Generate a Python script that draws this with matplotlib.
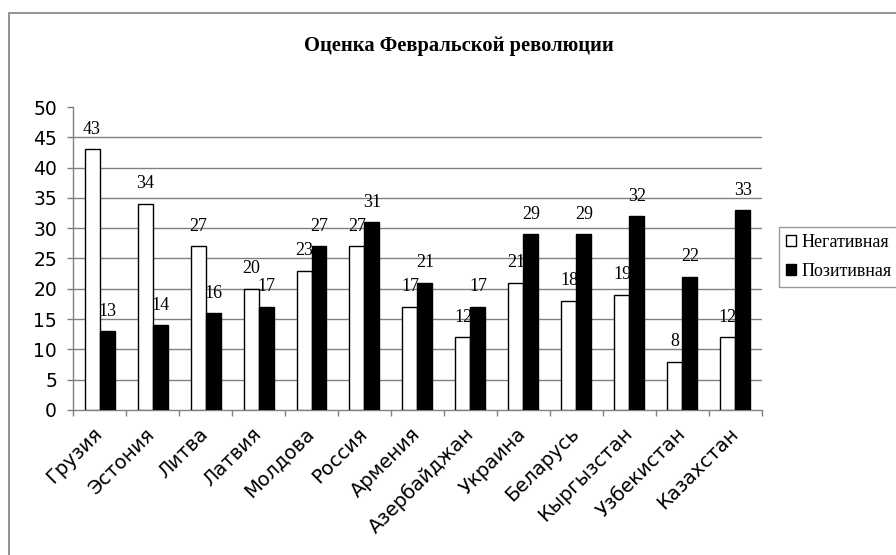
import numpy as np
import matplotlib.pyplot as plt
from matplotlib.patches import Rectangle

# данные
countries = ['Грузия', 'Эстония', 'Литва', 'Латвия', 'Молдова', 'Россия', 'Армения',
             'Азербайджан', 'Украина', 'Беларусь', 'Кыргызстан', 'Узбекистан', 'Казахстан']
negative = [43, 34, 27, 20, 23, 27, 17, 12, 21, 18, 19, 8, 12]
positive = [13, 14, 16, 17, 27, 31, 21, 17, 29, 29, 32, 22, 33]
yticks = list(range(0, 51, 5))

fig = plt.figure(figsize=(8.96, 5.55), dpi=100)
ax = fig.add_axes([0.0815, 0.2613, 0.7689, 0.5459])

# рамка диаграммы
fig.patches.append(Rectangle((9 / 896, -0.1), 1.2, 1.1 - 13 / 555,
                             transform=fig.transFigure, fill=False,
                             edgecolor='#808080', lw=1.2))

x = np.arange(len(countries))
w = 0.283
b1 = ax.bar(x - w / 2, negative, w, color='white', edgecolor='black', lw=1,
            label='Негативная', zorder=3)
b2 = ax.bar(x + w / 2, positive, w, color='black', edgecolor='black', lw=1,
            label='Позитивная', zorder=3)

for rect, v in list(zip(b1, negative)) + list(zip(b2, positive)):
    ax.text(rect.get_x() + rect.get_width() / 2, v + 3.3, str(v),
            ha='center', va='center', family='Liberation Serif', fontsize=13,
            zorder=4)

ax.set_ylim(0, 50)
ax.set_xlim(-0.5, len(countries) - 0.5)
ax.set_yticks(yticks)
ax.set_yticklabels([str(t) for t in yticks], fontsize=13.5, family='DejaVu Sans')
for t in yticks[1:-1]:
    ax.axhline(t, color='#808080', lw=1, zorder=1)

ax.set_xticks(x)
ax.set_xticklabels(countries, rotation=45, ha='right', va='center',
                   rotation_mode='anchor', fontsize=14, family='DejaVu Sans')
ax.tick_params(axis='x', which='major', length=0, pad=15)
ax.set_xticks(np.arange(-0.5, len(countries), 1), minor=True)
ax.tick_params(axis='x', which='minor', length=4.5, color='#808080', width=1)
ax.tick_params(axis='y', length=4.5, color='#808080', width=1, pad=7)

for s in ['top', 'right']:
    ax.spines[s].set_visible(False)
for s in ['left', 'bottom']:
    ax.spines[s].set_color('#808080')
    ax.spines[s].set_linewidth(1)

fig.text(0.512, 0.918, 'Оценка Февральской революции', ha='center', va='center',
         family='Liberation Serif', fontweight='bold', fontsize=14.8)

leg = ax.legend(loc='upper left', bbox_to_anchor=(1.0247, 0.604), frameon=True,
                fancybox=False, edgecolor='#808080', handlelength=0.55,
                handleheight=0.55, handletextpad=0.3, borderpad=0.4,
                borderaxespad=0, labelspacing=0.65,
                prop={'family': 'Liberation Serif', 'size': 13})
leg.get_frame().set_linewidth(1)

fig.savefig('out.png', dpi=100)
